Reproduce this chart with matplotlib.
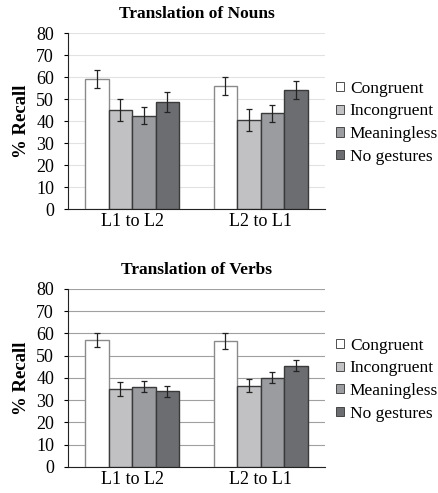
import matplotlib.pyplot as plt
import numpy as np

plt.rcParams['font.family'] = ['Liberation Serif', 'DejaVu Serif']

groups = ['L1 to L2', 'L2 to L1']
conditions = ['Congruent', 'Incongruent', 'Meaningless', 'No gestures']
colors = ['#ffffff', '#c1c1c3', '#9b9ca0', '#6c6d71']
edges = ['#8a8a8a', '#3a3a3a', '#3a3a3a', '#3a3a3a']

# nouns
nouns = [[59, 56], [45, 40.5], [42.5, 43.5], [48.5, 54]]
nouns_err = [[4, 4], [5, 5], [4, 4], [4.5, 4]]
# verbs
verbs = [[57, 56.5], [35, 36.5], [36, 40], [34, 45.5]]
verbs_err = [[3, 3.5], [3, 3], [2.5, 2.5], [2.5, 2.5]]

fig = plt.figure(figsize=(4.38, 4.93), dpi=100)
ax1 = fig.add_axes([0.155, 0.576, 0.587, 0.357])
ax2 = fig.add_axes([0.155, 0.053, 0.587, 0.361])


def draw(ax, vals, errs, title, gridcol):
    x = np.arange(len(groups))
    w = 0.183
    for i in range(len(conditions)):
        ax.bar(x + (i - 1.5) * w, vals[i], w, yerr=errs[i], color=colors[i],
               edgecolor=edges[i], linewidth=1.0, label=conditions[i],
               error_kw=dict(ecolor='#222222', elinewidth=0.9, capsize=2.5, capthick=0.9),
               zorder=3)
    ax.set_xlim(-0.5, 1.5)
    ax.set_ylim(0, 80)
    ax.set_yticks(range(0, 81, 10))
    ax.set_xticks(x)
    ax.set_xticklabels(groups)
    ax.tick_params(axis='x', length=0, labelsize=13, pad=3)
    ax.tick_params(axis='y', labelsize=13, length=3, direction='out', pad=7)
    ax.yaxis.grid(True, color=gridcol, linewidth=0.8, zorder=0)
    ax.set_axisbelow(True)
    for s in ['top', 'right']:
        ax.spines[s].set_visible(False)
    ax.spines['left'].set_color('#222222')
    ax.spines['bottom'].set_color('#222222')
    ax.set_ylabel('% Recall', fontsize=13.5, fontweight='bold', labelpad=4)
    ax.set_title(title, fontsize=12.5, fontweight='bold', pad=11)
    leg = ax.legend(loc='center left', bbox_to_anchor=(0.995, 0.49), frameon=False,
                    fontsize=12.5, handlelength=0.45, handleheight=0.45,
                    handletextpad=0.35, labelspacing=0.38, borderaxespad=0.3)
    for h in leg.legend_handles:
        h.set_edgecolor('#333333')
        h.set_linewidth(0.6)


draw(ax1, nouns, nouns_err, 'Translation of Nouns', '#e2e2e2')
draw(ax2, verbs, verbs_err, 'Translation of Verbs', '#a0a0a0')

fig.savefig('out.png', dpi=100)
